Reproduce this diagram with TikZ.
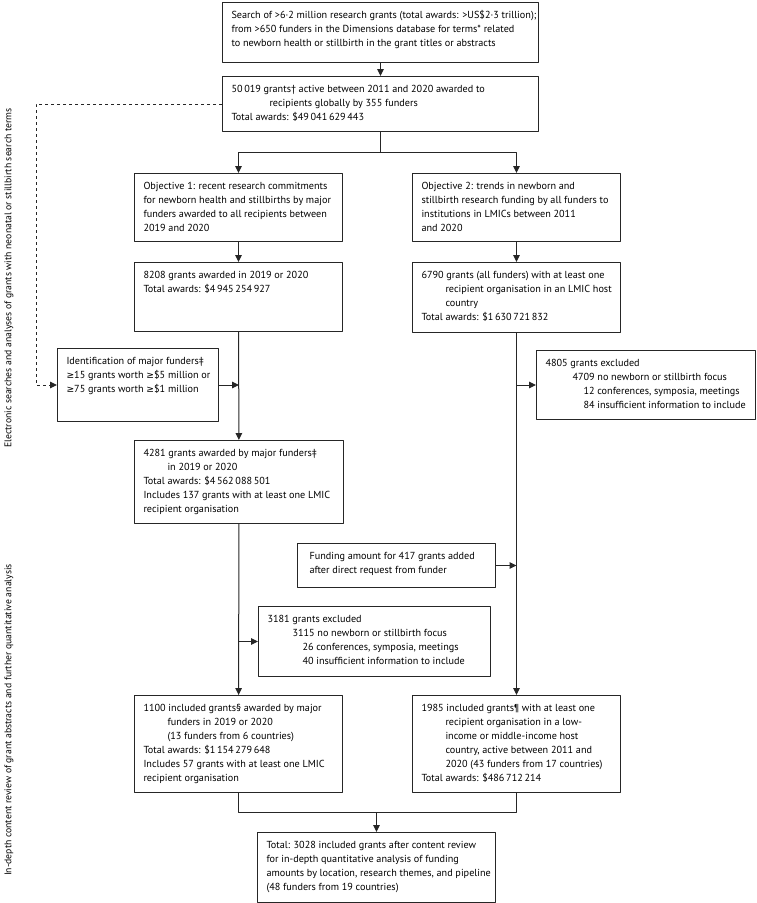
\documentclass[tikz,border=0pt]{standalone}
\usepackage{fontspec}
\setmainfont{PT Sans}
\newfontfamily\symfont[Scale=0.9]{DejaVu Sans}
\usetikzlibrary{arrows.meta}
% hanging indent, greater-or-equal sign and fixed size box text (outer width, outer height in pt)
\newcommand\ind{\hspace*{24pt}}
\newcommand\geqsign{{\symfont ≥}}
\newcommand\boxtext[3]{\parbox[c][\dimexpr#2pt-12pt\relax][t]{\dimexpr#1pt-18pt\relax}{\fontsize{10.2}{14}\selectfont\begin{tabular}[t]{@{}l@{}}#3\end{tabular}}}
\begin{document}
\begin{tikzpicture}[x=1pt, y=-1pt, line join=round, >={Triangle[length=7pt,width=6.5pt]},
	flowbox/.style={draw=black!85, line width=1pt, anchor=north west, inner xsep=9pt, inner ysep=6pt},
	link/.style={draw=black!85, line width=1pt},
	sidelabel/.style={rotate=90, font=\fontsize{9.7}{12}\selectfont}]
	\useasboundingbox (0,0) rectangle (756,903);
	
	% search and all grants
	\node[flowbox] (search) at (222,2) {\boxtext{316}{60}{Search of >6·2 million research grants (total awards: >US\$2·3 trillion);\\ from >650 funders in the Dimensions database for terms* related\\ to newborn health or stillbirth in the grant titles or abstracts}};
	\node[flowbox] (grants) at (222,76) {\boxtext{316}{55}{50\,019 grants† active between 2011 and 2020 awarded to\\ \hspace*{38pt}recipients globally by 355 funders\\ Total awards: \$49\,041\,629\,443}};
	
	% objective 1 (left column)
	\node[flowbox] (obj1) at (134,173) {\boxtext{208}{68}{Objective 1: recent research commitments\\ for newborn health and stillbirths by major\\ funders awarded to all recipients between\\ 2019 and 2020}};
	\node[flowbox] (recent) at (134,262) {\boxtext{208}{69}{8208 grants awarded in 2019 or 2020\\ Total awards: \$4\,945\,254\,927}};
	\node[flowbox] (major) at (57,348) {\boxtext{161}{73}{Identification of major funders‡\\ \geqsign15 grants worth \geqsign\$5 million or\\ \geqsign75 grants worth \geqsign\$1 million}};
	\node[flowbox] (bymajor) at (134,440) {\boxtext{209}{83}{4281 grants awarded by major funders‡\\ \ind in 2019 or 2020\\ Total awards: \$4\,562\,088\,501\\ Includes 137 grants with at least one LMIC\\ recipient organisation}};
	\node[flowbox] (excl1) at (258,606) {\boxtext{232}{70}{3181 grants excluded\\ \hspace*{25pt}3115 no newborn or stillbirth focus\\ \hspace*{35pt}26 conferences, symposia, meetings\\ \hspace*{35pt}40 insufficient information to include}};
	\node[flowbox] (incl1) at (134,695) {\boxtext{208}{97}{1100 included grants§ awarded by major\\ \ind funders in 2019 or 2020\\ \ind (13 funders from 6 countries)\\ Total awards: \$1\,154\,279\,648\\ Includes 57 grants with at least one LMIC\\ recipient organisation}};
	
	% objective 2 (right column)
	\node[flowbox] (obj2) at (412,173) {\boxtext{208}{68}{Objective 2: trends in newborn and\\ stillbirth research funding by all funders to\\ institutions in LMICs between 2011\\ and 2020}};
	\node[flowbox] (lmic) at (412,262) {\boxtext{208}{70}{6790 grants (all funders) with at least one\\ \ind recipient organisation in an LMIC host\\ \ind country\\ Total awards: \$1\,630\,721\,832}};
	\node[flowbox] (excl2) at (536,350) {\boxtext{219}{69}{4805 grants excluded\\ \hspace*{27pt}4709 no newborn or stillbirth focus\\ \hspace*{38pt}12 conferences, symposia, meetings\\ \hspace*{38pt}84 insufficient information to include}};
	\node[flowbox] (amount) at (297,543) {\boxtext{198}{44}{\hspace*{3pt}Funding amount for 417 grants added\\ \hspace*{3pt}after direct request from funder}};
	\node[flowbox] (incl2) at (412,695) {\boxtext{208}{97}{1985 included grants¶ with at least one\\ \ind recipient organisation in a low-\\ \ind income or middle-income host\\ \ind country, active between 2011 and\\ \ind 2020 (43 funders from 17 countries)\\ Total awards: \$486\,712\,214}};
	
	% total
	\node[flowbox] (total) at (257,832) {\boxtext{238}{70}{Total: 3028 included grants after content review\\ for in-depth quantitative analysis of funding\\ amounts by location, research themes, and pipeline\\ (48 funders from 19 countries)}};
	
	% side labels
	\node[sidelabel] (phase1) at (9,278) {Electronic searches and analyses of grants with neonatal or stillbirth search terms};
	\node[sidelabel] (phase2) at (9,720) {In-depth content review of grant abstracts and further quantitative analysis};
	
	\path
	(search.south |- 0,152) coordinate (split)
	(total.north |- 0,812) coordinate (merge)
	;
	\draw[link,->] (search) -- (grants);
	\draw[link] (grants) -- (split);
	\draw[link,->] (split) -| (obj1.north);
	\draw[link,->] (split) -| (obj2.north);
	\draw[link,->] (obj1) -- (recent);
	\draw[link,->] (obj2) -- (lmic);
	\draw[link,->] (recent) -- (bymajor);
	\draw[link,->] (bymajor) -- (incl1);
	\draw[link,->] (lmic) -- (incl2);
	\draw[link,->] (major.east) -- (major.east -| bymajor.north);
	\draw[link,->,dashed] (grants.west) -- ++(-186,0) |- (major.west);
	\draw[link,->] (lmic.south |- excl2.west) -- (excl2.west);
	\draw[link,->] (amount.east) -- (amount.east -| lmic.south);
	\draw[link,->] (bymajor.south |- excl1.west) -- (excl1.west);
	\draw[link] (incl1.south) |- (merge) -| (incl2.south);
	\draw[link,->] (merge) -- (total);
\end{tikzpicture}
\end{document}
